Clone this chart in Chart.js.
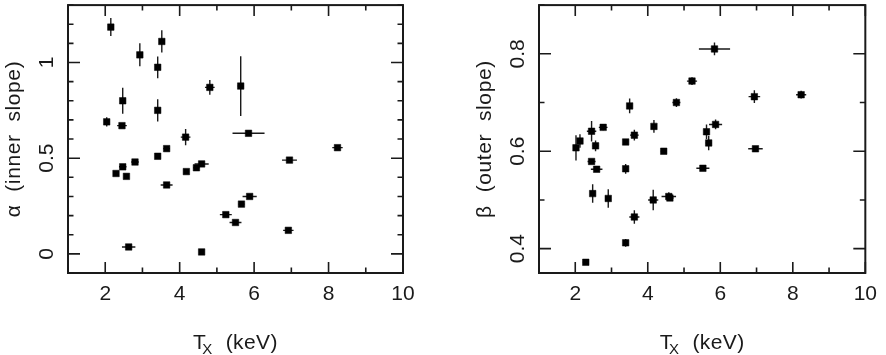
<!DOCTYPE html>
<html><head><meta charset="utf-8">
<script src="https://cdn.jsdelivr.net/npm/chart.js@4.4.0/dist/chart.umd.min.js"></script>
<style>
html,body{margin:0;padding:0;background:#fff;}
#wrap{position:relative;width:886px;height:355px;overflow:hidden;background:#fff;}
.c{position:absolute;top:0;width:443px;height:355px;}
</style></head><body>
<div id="wrap">
<div class="c" style="left:0"><canvas id="c1" width="443" height="355"></canvas></div>
<div class="c" style="left:443px"><canvas id="c2" width="443" height="355"></canvas></div>
</div>
<script>
// ---- data: left panel (alpha, inner slope) ----
const tAlpha    = [2.15, 2.93, 3.52, 3.41, 2.47, 3.41, 2.04, 2.45, 4.16, 4.81, 5.64, 5.85, 3.65, 3.41, 2.80, 2.47, 2.29, 2.57, 4.18, 4.45, 4.59, 6.95, 8.24, 3.65, 2.63, 4.59, 5.24, 5.50, 5.66, 5.88, 6.92];
const tAlphaErr = [0.05, 0.05, 0.05, 0.05, 0.05, 0.05, 0.06, 0.13, 0.13, 0.13, 0.08, 0.43, 0.09, 0.05, 0.10, 0.10, 0.05, 0.05, 0.05, 0.08, 0.19, 0.20, 0.14, 0.16, 0.18, 0.05, 0.16, 0.16, 0.08, 0.19, 0.14];
const alpha     = [1.185, 1.04, 1.11, 0.975, 0.80, 0.75, 0.69, 0.67, 0.61, 0.87, 0.877, 0.63, 0.55, 0.51, 0.48, 0.455, 0.42, 0.405, 0.43, 0.45, 0.47, 0.49, 0.555, 0.36, 0.036, 0.01, 0.205, 0.164, 0.26, 0.30, 0.123];
const alphaErr  = [0.047, 0.06, 0.058, 0.057, 0.068, 0.058, 0.024, 0.01, 0.043, 0.038, 0.156, 0.01, 0.01, 0.01, 0.01, 0.01, 0.01, 0.01, 0.01, 0.01, 0.01, 0.01, 0.01, 0.01, 0.01, 0.01, 0.01, 0.01, 0.01, 0.01, 0.01];
// ---- data: right panel (beta, outer slope) ----
const tBeta    = [2.02, 2.13, 2.45, 2.77, 2.56, 2.45, 2.59, 3.39, 3.39, 3.50, 3.63, 4.17, 4.44, 4.79, 5.22, 5.84, 6.94, 8.23, 5.87, 5.62, 5.68, 6.97, 5.52, 2.48, 2.91, 2.29, 3.39, 3.63, 4.15, 4.58, 4.61];
const tBetaErr = [0.05, 0.05, 0.13, 0.12, 0.08, 0.11, 0.16, 0.05, 0.05, 0.05, 0.12, 0.08, 0.08, 0.11, 0.14, 0.43, 0.16, 0.14, 0.18, 0.06, 0.08, 0.20, 0.18, 0.05, 0.05, 0.08, 0.05, 0.14, 0.14, 0.20, 0.10];
const beta     = [0.607, 0.621, 0.641, 0.649, 0.611, 0.579, 0.563, 0.619, 0.564, 0.693, 0.633, 0.651, 0.600, 0.700, 0.744, 0.810, 0.712, 0.716, 0.655, 0.640, 0.617, 0.605, 0.565, 0.513, 0.503, 0.372, 0.412, 0.465, 0.500, 0.507, 0.504];
const betaErr  = [0.026, 0.014, 0.021, 0.006, 0.011, 0.005, 0.005, 0.005, 0.010, 0.015, 0.011, 0.013, 0.005, 0.009, 0.008, 0.013, 0.013, 0.008, 0.010, 0.015, 0.015, 0.005, 0.005, 0.019, 0.019, 0.005, 0.008, 0.014, 0.021, 0.009, 0.006];
// ---- ticks ----
const xTickLabels = [2, 4, 6, 8, 10];
const xMinorTicks = [1, 3, 5, 7, 9];
const alphaTickLabels = [0, 0.5, 1];
const alphaMinorTicks = [-0.1, 0.1, 0.2, 0.3, 0.4, 0.6, 0.7, 0.8, 0.9, 1.1, 1.2, 1.3];
const betaTickLabels = [0.4, 0.6, 0.8];
const betaMinorTicks = [0.5, 0.7, 0.9];

const FONT = "'Liberation Sans', Arial, Helvetica, sans-serif";
const INK = '#1a1a1a';

function decoPlugin(o) {
  return {
    id: 'deco',
    beforeDatasetsDraw(chart) {
      const ctx = chart.ctx, xs = chart.scales.x, ys = chart.scales.y;
      ctx.save();
      ctx.strokeStyle = INK; ctx.lineWidth = 1.4;
      o.t.forEach((t, i) => {
        const px = xs.getPixelForValue(t), py = ys.getPixelForValue(o.v[i]);
        ctx.beginPath();
        ctx.moveTo(xs.getPixelForValue(t - o.te[i]), py);
        ctx.lineTo(xs.getPixelForValue(t + o.te[i]), py);
        ctx.moveTo(px, ys.getPixelForValue(o.v[i] - o.ve[i]));
        ctx.lineTo(px, ys.getPixelForValue(o.v[i] + o.ve[i]));
        ctx.stroke();
      });
      ctx.restore();
    },
    afterDraw(chart) {
      const ctx = chart.ctx, xs = chart.scales.x, ys = chart.scales.y, a = chart.chartArea;
      ctx.save();
      ctx.strokeStyle = INK; ctx.lineWidth = 2;
      ctx.strokeRect(a.left, a.top, a.right - a.left, a.bottom - a.top);
      ctx.lineWidth = 1.6;
      const MAJ = 11, MIN = 5.5;
      const xt = (v, L) => { const p = xs.getPixelForValue(v);
        ctx.beginPath(); ctx.moveTo(p, a.bottom); ctx.lineTo(p, a.bottom - L);
        ctx.moveTo(p, a.top); ctx.lineTo(p, a.top + L); ctx.stroke(); };
      const yt = (v, L) => { const p = ys.getPixelForValue(v);
        ctx.beginPath(); ctx.moveTo(a.left, p); ctx.lineTo(a.left + L, p);
        ctx.moveTo(a.right, p); ctx.lineTo(a.right - L, p); ctx.stroke(); };
      xTickLabels.forEach(v => xt(v, MAJ));
      xMinorTicks.forEach(v => xt(v, MIN));
      o.yMajor.forEach(v => yt(v, MAJ + 1));
      o.yMinor.forEach(v => yt(v, MIN));
      // y tick labels (rotated)
      ctx.fillStyle = INK;
      ctx.font = '21px ' + FONT;
      ctx.textAlign = 'center'; ctx.textBaseline = 'alphabetic';
      o.yMajor.forEach(v => {
        const p = ys.getPixelForValue(v);
        ctx.save(); ctx.translate(a.left - 15, p); ctx.rotate(-Math.PI / 2);
        ctx.fillText(String(v), 0, 0); ctx.restore();
      });
      // y title
      const cy = (a.top + a.bottom) / 2;
      ctx.save(); ctx.translate(a.left - 48, cy); ctx.rotate(-Math.PI / 2);
      try { ctx.letterSpacing = '0.6px'; } catch (e) {}
      ctx.fillText(o.yTitle, 0, 0); ctx.restore();
      // x title  T_X (keV)
      const cx = (a.left + a.right) / 2, by = 349;
      ctx.textAlign = 'left';
      try { ctx.letterSpacing = '0.4px'; } catch (e) {}
      ctx.font = '21px ' + FONT; const wT = ctx.measureText('T').width;
      const wR = ctx.measureText('(keV)').width;
      ctx.font = '15px ' + FONT; const wX = ctx.measureText('X').width;
      const gap = 13;
      let x0 = cx - (wT - 4 + wX + gap + wR) / 2;
      ctx.font = '21px ' + FONT; ctx.fillText('T', x0, by);
      ctx.font = '15px ' + FONT; ctx.fillText('X', x0 + wT - 4, by + 5);
      ctx.font = '21px ' + FONT; ctx.fillText('(keV)', x0 + wT - 4 + wX + gap, by);
      ctx.restore();
    }
  };
}

function makeChart(id, t, v, te, ve, ymin, ymax, yMajor, yMinor, yTitle, pad, yWidth) {
  return new Chart(document.getElementById(id), {
    type: 'scatter',
    data: { datasets: [{
      data: t.map((x, i) => ({ x: x, y: v[i] })),
      pointStyle: 'rect', pointRadius: 4.6, pointHoverRadius: 4.6,
      backgroundColor: '#000', borderColor: '#000', borderWidth: 0.5
    }]},
    options: {
      responsive: false, animation: false, devicePixelRatio: 1,
      layout: { padding: pad },
      plugins: { legend: { display: false }, tooltip: { enabled: false } },
      events: [],
      scales: {
        x: {
          type: 'linear', min: 1, max: 10,
          afterFit: s => { s.height = 82; },
          afterBuildTicks: s => { s.ticks = xTickLabels.map(x => ({ value: x })); },
          grid: { display: false, drawTicks: false },
          border: { display: false },
          ticks: { padding: 9, color: INK, font: { family: FONT, size: 21 }, maxRotation: 0, autoSkip: false,
                   callback: val => String(val) }
        },
        y: {
          type: 'linear', min: ymin, max: ymax,
          afterFit: s => { s.width = yWidth; },
          grid: { display: false, drawTicks: false },
          border: { display: false },
          ticks: { display: false }
        }
      }
    },
    plugins: [decoPlugin({ t: t, v: v, te: te, ve: ve, yMajor: yMajor, yMinor: yMinor, yTitle: yTitle })]
  });
}

makeChart('c1', tAlpha, alpha, tAlphaErr, alphaErr, -0.1, 1.3, alphaTickLabels, alphaMinorTicks,
  'α  (inner  slope)', { left: 0, right: 40, top: 1, bottom: 0 }, 68);
makeChart('c2', tBeta, beta, tBetaErr, betaErr, 0.35, 0.9, betaTickLabels, betaMinorTicks,
  'β  (outer  slope)', { left: 0, right: 13, top: 1, bottom: 0 }, 96);
</script>
</body></html>
